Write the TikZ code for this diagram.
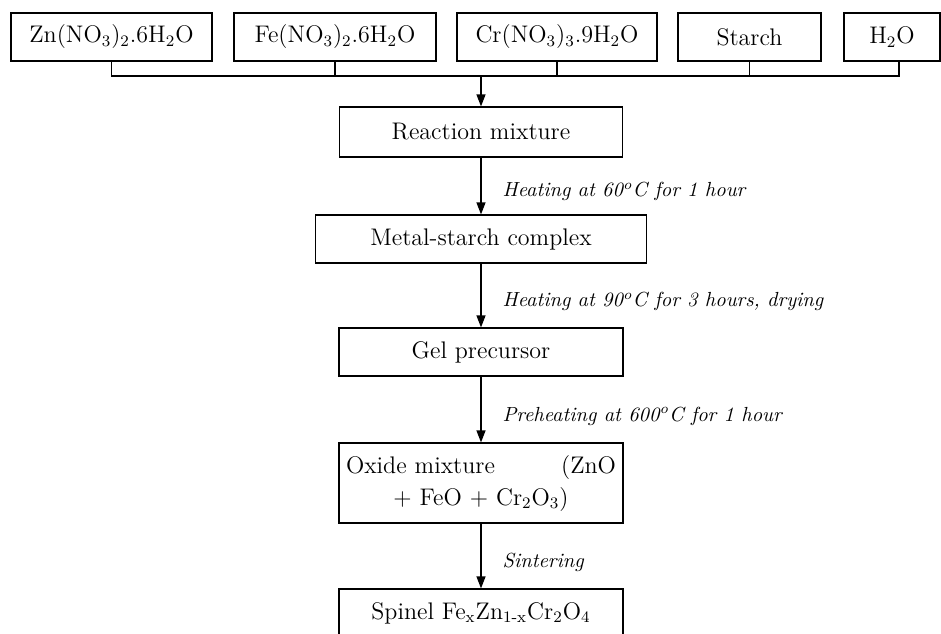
\documentclass[tikz,border=0pt]{standalone}
\usetikzlibrary{arrows.meta}
\begin{document}
\begin{tikzpicture}[x=0.5pt,y=-0.5pt,
  font=\fontsize{12}{16}\selectfont,
  box/.style={draw,line width=0.6pt,minimum height=24pt,inner sep=0pt},
  arr/.style={line width=0.6pt,-{Triangle[length=6pt,width=4.5pt]}},
  lbl/.style={right,pos=0.6,inner sep=0pt,xshift=10.5pt,font=\fontsize{10.2}{13}\selectfont\itshape}]

\useasboundingbox (0,0) rectangle (941,633);
\clip (0,0) rectangle (941,633);

% starting materials
\node[box,minimum width=100.5pt] (zn) at (111.5,37) {Zn(NO\textsubscript{3})\textsubscript{2}.6H\textsubscript{2}O};
\node[box,minimum width=101pt] (fe) at (335,37) {Fe(NO\textsubscript{3})\textsubscript{2}.6H\textsubscript{2}O};
\node[box,minimum width=100pt] (cr) at (557,37) {Cr(NO\textsubscript{3})\textsubscript{3}.9H\textsubscript{2}O};
\node[box,minimum width=71.5pt] (st) at (749.5,37) {Starch};
\node[box,minimum width=48pt] (h2o) at (892,37) {H\textsubscript{2}O};

% process steps
\node[box,minimum width=141.5pt,minimum height=25pt] (rm) at (481,132) {Reaction mixture};
\node[box,minimum width=165.5pt] (ms) at (481,239) {Metal-starch complex};
\node[box,minimum width=142pt] (gp) at (481,352) {Gel precursor};
\node[box,minimum width=142pt,minimum height=40pt,text width=135pt,align=center] (ox) at (481,483)
  {Oxide mixture\hfill(ZnO\\ + FeO + Cr\textsubscript{2}O\textsubscript{3})};
\node[box,minimum width=142pt] (sp) at (481,613) {Spinel Fe\textsubscript{x}Zn\textsubscript{1-x}Cr\textsubscript{2}O\textsubscript{4}};

% collecting line
\coordinate (bus) at (481,76);
\coordinate (h2o bus) at ([xshift=3.5pt]h2o.south);
\draw[line width=0.6pt] (zn.south) -- (zn.south |- bus) -- (h2o bus |- bus) -- (h2o bus);
\foreach \n in {fe,cr,st}
  \draw[line width=0.6pt] (\n.south) -- (\n.south |- bus);
\draw[arr] (bus) -- (rm);

\draw[arr] (rm) -- node[lbl] (t1) {Heating at 60\textsuperscript{o}C for 1 hour} (ms);
\draw[arr] (ms) -- node[lbl] (t2) {Heating at 90\textsuperscript{o}C for 3 hours, drying} (gp);
\draw[arr] (gp) -- node[lbl] (t3) {Preheating at 600\textsuperscript{o}C for 1 hour} (ox);
\draw[arr] (ox) -- node[lbl] (t4) {Sintering} (sp);
\end{tikzpicture}
\end{document}
